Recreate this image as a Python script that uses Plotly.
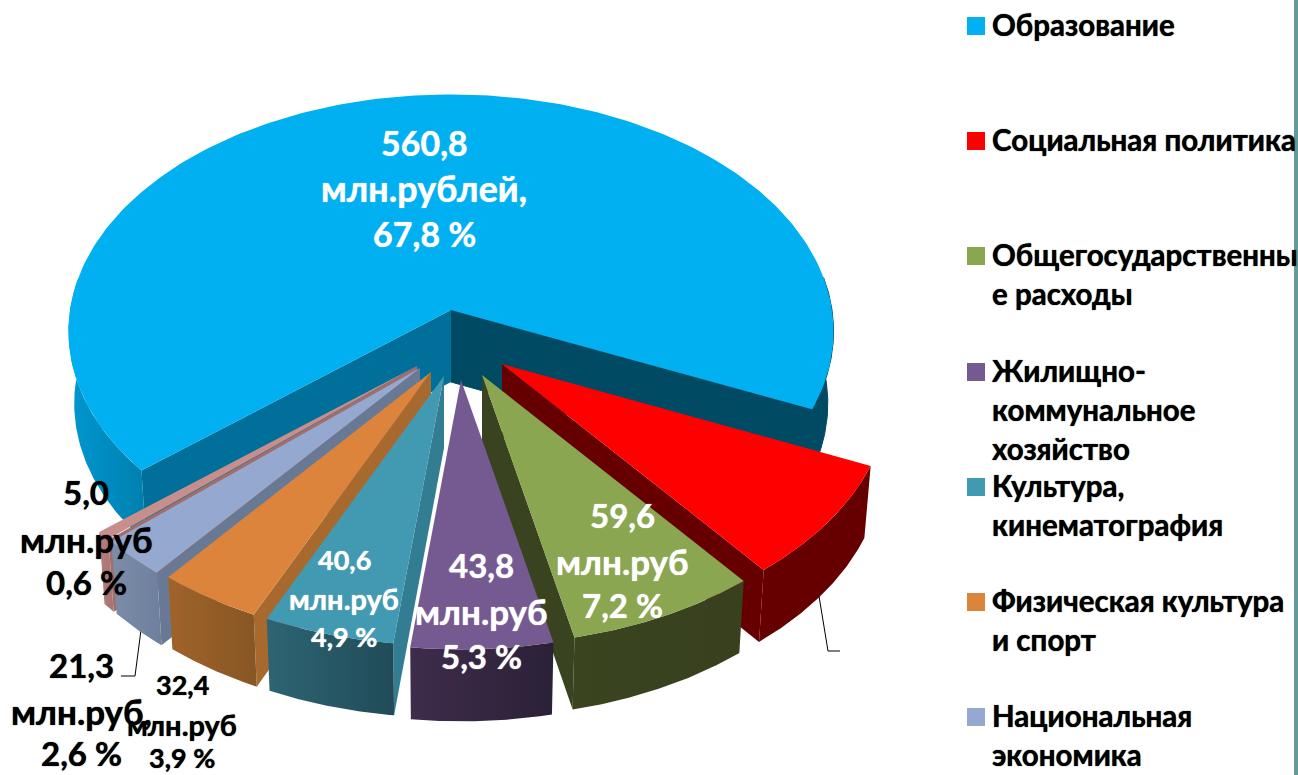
import math
import plotly.graph_objects as go

# ---------- data ----------
CATEGORIES = ["Образование", "Социальная политика", "Общегосударственные расходы",
              "Жилищно-коммунальное хозяйство", "Культура, кинематография",
              "Физическая культура и спорт", "Национальная экономика", "Прочие"]
VALUES = [560.8, 63.7, 59.6, 43.8, 40.6, 32.4, 21.3, 5.0]
PERCENTS = [67.8, 7.7, 7.2, 5.3, 4.9, 3.9, 2.6, 0.6]
UNITS = ["млн.рублей,", None, "млн.руб", "млн.руб", "млн.руб", "млн.руб", "млн.руб,", "млн.руб"]

LEGEND_LINES = [["Образование"], ["Социальная политика"], ["Общегосударственны", "е расходы"],
                ["Жилищно-", "коммунальное", "хозяйство"], ["Культура,", "кинематография"],
                ["Физическая культура", "и спорт"], ["Национальная", "экономика"]]

# ---------- styles / geometry ----------
FONT = "Lato, 'Open Sans', sans-serif"
TOP = ["#00B0F0", "#FF0000", "#8BA650", "#755A91", "#429AB2", "#DC843B", "#95A9D0", "#C88E8C"]
CUT = ["#004A63", "#660000", "#39431F", None, "#337D93", "#A8692E", "#677994", "#A06E6C"]
OUTER = [("#0098D0", "#007FAE"), ("#660000", "#660000"), ("#3A441F", "#38401E"), ("#3E2C4B", "#2B2137"),
         ("#2E6473", "#214B58"), ("#A0632A", "#875625"), ("#7C8DA9", "#6E7F9B"), ("#B47E7C", "#A87472")]
CX, CY = 451, 310
MAIN_SHAPE = (381, 235, 0.09)
SLICE_SHAPE = (385, 239, 0.113)
DEPTH, INSET = 72, 0.985
START = -24.0
OFFSETS = [(0, 0), (51, 54), (31, 65), (10, 70), (-7, 66), (-20, 62), (-31, 58), (-34, 56)]
LEFT_CUT_MAIN = "#00709A"
DRAW_ORDER = [1, 2, 3, 7, 6, 5, 4]

def proj(deg, off, shape):
    rx, rt, k = shape
    a = math.radians(deg)
    s = 1 / (1 + k * math.sin(a))
    return CX + off[0] + rx * math.cos(a) * s, CY + off[1] - rt * math.sin(a) * s

def low(p):
    return CX + (p[0] - CX) * INSET, p[1] + DEPTH

def arc(a0, a1, off, shape, n=80):
    return [proj(a0 + (a1 - a0) * i / n, off, shape) for i in range(n + 1)]

def poly(fig, pts, color=None, grad=None, seal=False):
    xs = [p[0] for p in pts] + [pts[0][0]]
    ys = [p[1] for p in pts] + [pts[0][1]]
    line = dict(width=1, color=color) if seal else dict(width=0)
    kw = dict(x=xs, y=ys, mode="lines", line=line, fill="toself",
              hoverinfo="skip", showlegend=False)
    if grad:
        kw["fillgradient"] = dict(type="horizontal", colorscale=[[0, grad[0]], [1, grad[1]]])
    else:
        kw["fillcolor"] = color
    fig.add_trace(go.Scatter(**kw))

total = sum(VALUES)
spans = [v / total * 360 for v in VALUES]
a_main_end = START + spans[0]
bounds = [(START, a_main_end)]
cur = START
for sp in spans[1:]:
    bounds.append((cur, cur - sp))
    cur -= sp

fig = go.Figure()

LEADERS = [[(818, 590), (828, 651), (840, 651)], [(141, 630), (135, 676), (121, 676)]]

# main slice
off = OFFSETS[0]
a0, a1 = bounds[0]
apex = (CX, CY)
right = arc(a0, 8, off, MAIN_SHAPE)
poly(fig, right + [low(p) for p in reversed(right)], color=CUT[0], seal=True)
left = arc(172, a1, off, MAIN_SHAPE)
poly(fig, left + [low(p) for p in reversed(left)], grad=OUTER[0])
pa, pb = proj(a0, off, MAIN_SHAPE), proj(a1, off, MAIN_SHAPE)
poly(fig, [apex, pa, low(pa), low(apex)], color=CUT[0], seal=True)
poly(fig, [apex, pb, low(pb), low(apex)], color=LEFT_CUT_MAIN)
poly(fig, [apex] + arc(a0, a1, off, MAIN_SHAPE, 240), color=TOP[0])

for lead in LEADERS:
    fig.add_trace(go.Scatter(x=[p[0] for p in lead], y=[p[1] for p in lead], mode="lines",
                             line=dict(color="#000000", width=1), hoverinfo="skip", showlegend=False))

# exploded slices
for i in DRAW_ORDER:
    off = OFFSETS[i]
    a0, a1 = bounds[i]
    apex = (CX + off[0], CY + off[1])
    rim = arc(a0, a1, off, SLICE_SHAPE)
    if CUT[i]:
        c = proj(a1 if i < 3 else a0, off, SLICE_SHAPE)
        poly(fig, [apex, c, low(c), (apex[0], apex[1] + DEPTH)], color=CUT[i])
    poly(fig, rim + [low(p) for p in reversed(rim)], grad=OUTER[i])
    poly(fig, [apex] + rim, color=TOP[i])

# ---------- data labels ----------
LABEL_POS = {0: (424, [142, 188, 233], 34, 36, "#FFFFFF"),
             2: (622, [515, 561, 605], 33, 35, "#FFFFFF"),
             3: (481, [565, 611, 656], 33, 35, "#FFFFFF"),
             4: (344, [559, 598, 636], 27, 29, "#FFFFFF"),
             5: (182, [684, 724, 757], 27, 29, "#000000"),
             6: (81, [665, 711, 753], 33, 35, "#000000"),
             7: (86, [492, 539, 582], 33, 35, "#000000")}
ann = []
def weight(col):
    return f"0 0 1px {col}"
for i, (x, ys, size, usize, col) in LABEL_POS.items():
    lines = [f"{VALUES[i]:.1f}".replace(".", ","), UNITS[i], f"{PERCENTS[i]:.1f}".replace(".", ",") + " %"]
    for y, t, sz in zip(ys, lines, (size, usize, size)):
        ann.append(dict(x=x, y=y, text=f"<b>{t}</b>", showarrow=False, xanchor="center", yanchor="middle",
                        font=dict(family=FONT, size=sz, color=col, shadow=weight(col))))

# ---------- legend ----------
LEG_X, LEG_TEXT_X = 976, 990
LEG_Y = [26, 141, 256, 372, 487, 602, 717]
LEG_LINE = 39
fig.add_trace(go.Scatter(x=[LEG_X] * 7, y=LEG_Y, mode="markers", hoverinfo="skip", showlegend=False,
                         marker=dict(symbol="square", size=18, color=TOP[:7], line=dict(width=0))))
for y0, lines in zip(LEG_Y, LEGEND_LINES):
    for j, t in enumerate(lines):
        ann.append(dict(x=LEG_TEXT_X, y=y0 + j * LEG_LINE - 2, text=f"<b>{t}</b>", showarrow=False,
                        xanchor="left", yanchor="middle",
                        font=dict(family=FONT, size=29.5, color="#000000", shadow=weight("#000000"))))

fig.update_layout(
    width=1298, height=775, autosize=False, margin=dict(l=0, r=0, t=0, b=0),
    paper_bgcolor="#FFFFFF", plot_bgcolor="#FFFFFF", showlegend=False,
    xaxis=dict(range=[0, 1298], visible=False, fixedrange=True),
    yaxis=dict(range=[775, 0], visible=False, fixedrange=True),
    annotations=ann,
    shapes=[dict(type="rect", xref="x", yref="y", x0=1294, x1=1298, y0=0, y1=775,
                 fillcolor="#659A9A", line=dict(width=0), layer="above")],
)
fig.write_html("out.html", config=dict(displayModeBar=False),
               post_script="document.body.style.margin='0';document.body.style.overflow='hidden';")
